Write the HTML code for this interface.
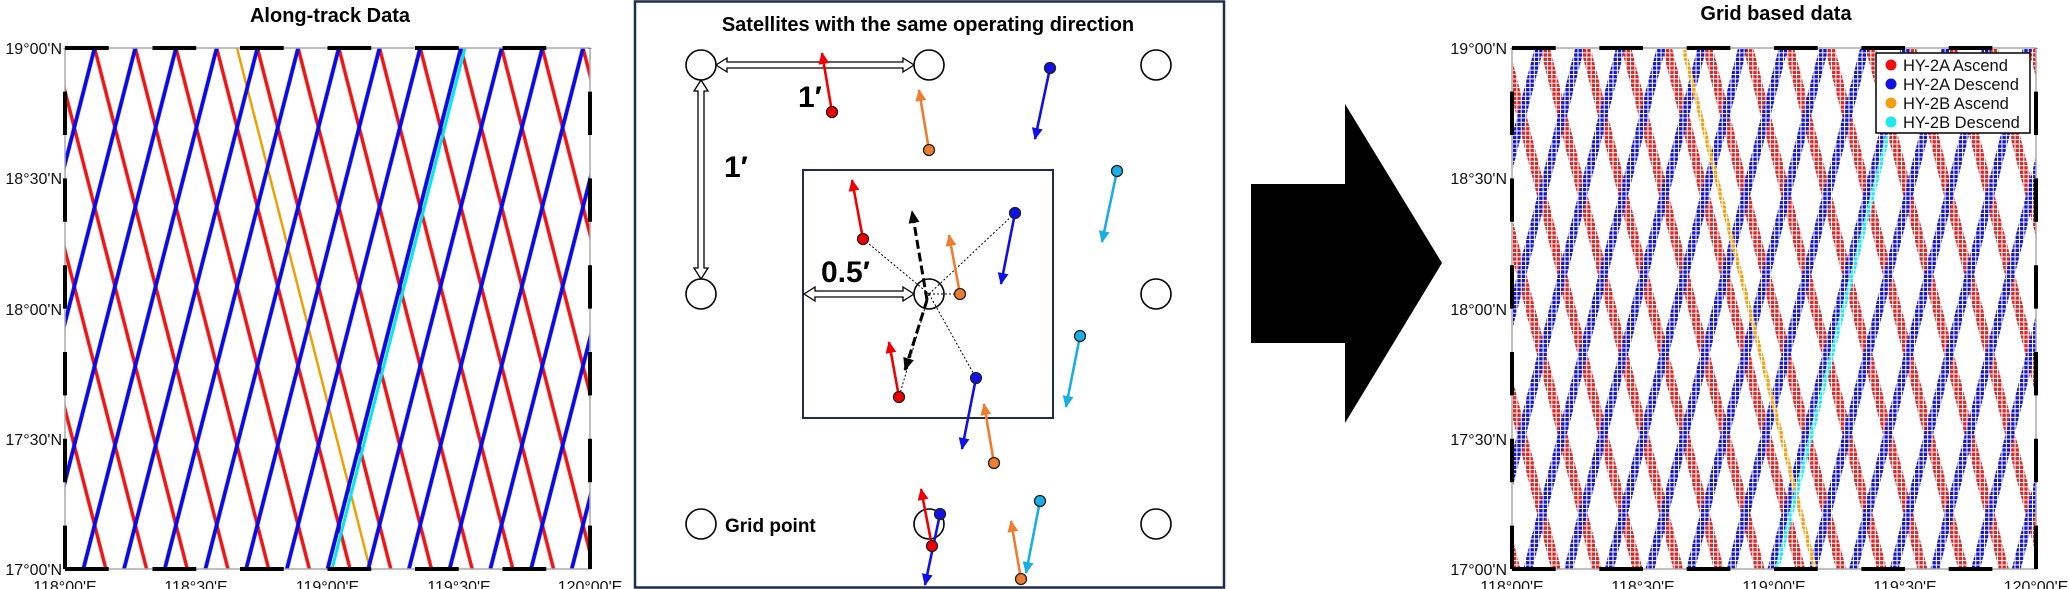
<!DOCTYPE html>
<html><head><meta charset="utf-8"><style>
html,body{margin:0;padding:0;background:#fff;}
svg{display:block;}
text{font-family:"Liberation Sans",Arial,sans-serif;}
</style></head><body>
<svg width="2069" height="589" viewBox="0 0 2069 589" xmlns="http://www.w3.org/2000/svg">
<defs>
  <clipPath id="cL"><rect x="65" y="48" width="525" height="521"/></clipPath>
  <clipPath id="cR"><rect x="1512" y="48" width="524" height="521"/></clipPath>
  <pattern id="pLB" patternUnits="userSpaceOnUse" x="0" y="0" width="40.7" height="1200" patternTransform="skewX(-14.36)">
    <rect x="23.5" y="0" width="4" height="1200" fill="#0a0ae6"/>
  </pattern>
  <pattern id="pLR" patternUnits="userSpaceOnUse" x="-20" y="0" width="40.7" height="1200" patternTransform="skewX(14.36)">
    <rect x="19.1" y="0" width="3.6" height="1200" fill="#ee1515"/>
  </pattern>
  <pattern id="pRB" patternUnits="userSpaceOnUse" x="0" y="0" width="40.7" height="1200" patternTransform="skewX(-14.36)">
    <rect x="0.3" y="0" width="9" height="1200" fill="#1414c8"/>
  </pattern>
  <pattern id="pRR" patternUnits="userSpaceOnUse" x="0" y="0" width="40.7" height="1200" patternTransform="skewX(14.36)">
    <rect x="21.7" y="0" width="10" height="1200" fill="#d82828"/>
  </pattern>
  <pattern id="grid" patternUnits="userSpaceOnUse" x="1512" y="48" width="4.37" height="4.34">
    <rect x="0" y="0" width="4.37" height="1" fill="#fff"/>
    <rect x="0" y="0" width="1" height="4.34" fill="#fff"/>
  </pattern>
  <marker id="mR" markerUnits="userSpaceOnUse" markerWidth="12" markerHeight="11" refX="11" refY="5.5" orient="auto"><path d="M0,0 L12,5.5 L0,11 z" fill="#f00000"/></marker>
  <marker id="mO" markerUnits="userSpaceOnUse" markerWidth="12" markerHeight="11" refX="11" refY="5.5" orient="auto"><path d="M0,0 L12,5.5 L0,11 z" fill="#ed7d31"/></marker>
  <marker id="mB" markerUnits="userSpaceOnUse" markerWidth="12" markerHeight="11" refX="11" refY="5.5" orient="auto"><path d="M0,0 L12,5.5 L0,11 z" fill="#1010e8"/></marker>
  <marker id="mC" markerUnits="userSpaceOnUse" markerWidth="12" markerHeight="11" refX="11" refY="5.5" orient="auto"><path d="M0,0 L12,5.5 L0,11 z" fill="#1aaee6"/></marker>
  <marker id="mK" markerUnits="userSpaceOnUse" markerWidth="13" markerHeight="11" refX="12" refY="5.5" orient="auto"><path d="M0,0 L13,5.5 L0,11 z" fill="#000"/></marker>
</defs>

<!-- ============ LEFT PLOT ============ -->
<text x="330" y="22" text-anchor="middle" font-size="20" font-weight="bold">Along-track Data</text>
<g clip-path="url(#cL)">
  <rect x="65" y="48" width="525" height="521" fill="url(#pLR)"/>
  <line x1="237" y1="48" x2="370" y2="569" stroke="#f0a000" stroke-width="2.5"/>
  <rect x="65" y="48" width="525" height="521" fill="url(#pLB)"/>
  <line x1="332" y1="569" x2="465" y2="48" stroke="#00e8f0" stroke-width="3"/>
  <line x1="328" y1="569" x2="461" y2="48" stroke="#0a0ae6" stroke-width="3"/>
</g>
<rect x="65" y="48" width="525" height="521" fill="none" stroke="#aaa" stroke-width="1.5"/>
<line x1="65" y1="48" x2="590" y2="48" stroke="#000" stroke-width="4" stroke-dasharray="43.75 43.75"/>
<line x1="65" y1="569" x2="590" y2="569" stroke="#000" stroke-width="4" stroke-dasharray="43.75 43.75"/>
<line x1="65" y1="569" x2="65" y2="48" stroke="#000" stroke-width="4" stroke-dasharray="43.4 43.4"/>
<line x1="590" y1="569" x2="590" y2="48" stroke="#000" stroke-width="4" stroke-dasharray="43.4 43.4"/>
<g font-size="16" text-anchor="end" fill="#111">
  <text x="62" y="54">19°00'N</text>
  <text x="62" y="184">18°30'N</text>
  <text x="62" y="315">18°00'N</text>
  <text x="62" y="445">17°30'N</text>
  <text x="62" y="575">17°00'N</text>
</g>
<g font-size="16" text-anchor="middle" fill="#111">
  <text x="65" y="592">118°00'E</text>
  <text x="196" y="592">118°30'E</text>
  <text x="327.5" y="592">119°00'E</text>
  <text x="459" y="592">119°30'E</text>
  <text x="590" y="592">120°00'E</text>
</g>

<!-- ============ MIDDLE PANEL ============ -->
<rect x="635" y="1.5" width="589" height="586" fill="#fff" stroke="#1f2d4d" stroke-width="2.5"/>
<text x="928" y="31" text-anchor="middle" font-size="20" font-weight="bold">Satellites with the same operating direction</text>
<rect x="803" y="170" width="250" height="248" fill="none" stroke="#1f2d4d" stroke-width="2"/>

<polygon points="716,65 727,58 727,62 903,62 903,58 914,65 903,72 903,68 727,68 727,72" fill="#fff" stroke="#000" stroke-width="1.3"/>
<polygon points="701,80 708,91 704,91 704,268 708,268 701,279 694,268 698,268 698,91 694,91" fill="#fff" stroke="#000" stroke-width="1.3"/>
<polygon points="804,294 815,287 815,291 903,291 903,287 914,294 903,301 903,297 815,297 815,301" fill="#fff" stroke="#000" stroke-width="1.3"/>

<g fill="#fff" stroke="#000" stroke-width="1.6">
  <circle cx="701" cy="65" r="15"/><circle cx="929" cy="65" r="15"/><circle cx="1156" cy="65" r="15"/>
  <circle cx="701" cy="294" r="15"/><circle cx="929" cy="294" r="15"/><circle cx="1156" cy="294" r="15"/>
  <circle cx="701" cy="524" r="15"/><circle cx="929" cy="524" r="15"/><circle cx="1156" cy="524" r="15"/>
</g>

<text x="798" y="107" font-size="30" font-weight="bold">1′</text>
<text x="724" y="177" font-size="30" font-weight="bold">1′</text>
<text x="821" y="282" font-size="30" font-weight="bold">0.5′</text>
<text x="725" y="532" font-size="19" font-weight="bold">Grid point</text>

<g stroke="#000" stroke-width="1" stroke-dasharray="2 2">
  <line x1="929" y1="294" x2="863" y2="239"/>
  <line x1="929" y1="294" x2="1015" y2="213"/>
  <line x1="929" y1="294" x2="960" y2="294"/>
  <line x1="929" y1="294" x2="976" y2="378"/>
  <line x1="929" y1="294" x2="899" y2="397"/>
</g>
<g stroke="#000" stroke-width="3" stroke-dasharray="9 4" fill="none">
  <line x1="927" y1="300" x2="912" y2="211" marker-end="url(#mK)"/>
  <line x1="927" y1="300" x2="905" y2="370" marker-end="url(#mK)"/>
</g>

<g stroke-width="2.6">
  <line x1="832" y1="112" x2="822" y2="53" stroke="#f00000" marker-end="url(#mR)"/>
  <line x1="929" y1="150" x2="919" y2="90" stroke="#ed7d31" marker-end="url(#mO)"/>
  <line x1="1050" y1="68" x2="1035" y2="139" stroke="#1010e8" marker-end="url(#mB)"/>
  <line x1="1117" y1="171" x2="1102" y2="242" stroke="#1aaee6" marker-end="url(#mC)"/>
  <line x1="863" y1="239" x2="852" y2="180" stroke="#f00000" marker-end="url(#mR)"/>
  <line x1="1015" y1="213" x2="1001" y2="284" stroke="#1010e8" marker-end="url(#mB)"/>
  <line x1="960" y1="294" x2="949" y2="235" stroke="#ed7d31" marker-end="url(#mO)"/>
  <line x1="899" y1="397" x2="889" y2="342" stroke="#f00000" marker-end="url(#mR)"/>
  <line x1="976" y1="378" x2="962" y2="449" stroke="#1010e8" marker-end="url(#mB)"/>
  <line x1="994" y1="463" x2="984" y2="404" stroke="#ed7d31" marker-end="url(#mO)"/>
  <line x1="1080" y1="336" x2="1066" y2="407" stroke="#1aaee6" marker-end="url(#mC)"/>
  <line x1="932" y1="546" x2="921" y2="489" stroke="#f00000" marker-end="url(#mR)"/>
  <line x1="940" y1="514" x2="925" y2="585" stroke="#1010e8" marker-end="url(#mB)"/>
  <line x1="1040" y1="501" x2="1026" y2="573" stroke="#1aaee6" marker-end="url(#mC)"/>
  <line x1="1021" y1="579" x2="1011" y2="521" stroke="#ed7d31" marker-end="url(#mO)"/>
</g>
<g stroke="#222" stroke-width="1.3">
  <circle cx="832" cy="112" r="5.5" fill="#f00000"/>
  <circle cx="929" cy="150" r="5.5" fill="#ed7d31"/>
  <circle cx="1050" cy="68" r="5.5" fill="#1010e8"/>
  <circle cx="1117" cy="171" r="5.5" fill="#1aaee6"/>
  <circle cx="863" cy="239" r="5.5" fill="#f00000"/>
  <circle cx="1015" cy="213" r="5.5" fill="#1010e8"/>
  <circle cx="960" cy="294" r="5.5" fill="#ed7d31"/>
  <circle cx="899" cy="397" r="5.5" fill="#f00000"/>
  <circle cx="976" cy="378" r="5.5" fill="#1010e8"/>
  <circle cx="994" cy="463" r="5.5" fill="#ed7d31"/>
  <circle cx="1080" cy="336" r="5.5" fill="#1aaee6"/>
  <circle cx="932" cy="546" r="5.5" fill="#f00000"/>
  <circle cx="940" cy="514" r="5.5" fill="#1010e8"/>
  <circle cx="1040" cy="501" r="5.5" fill="#1aaee6"/>
  <circle cx="1021" cy="579" r="5.5" fill="#ed7d31"/>
</g>

<!-- ============ BIG ARROW ============ -->
<polygon points="1251,184 1345,184 1345,104 1442,263 1345,423 1345,343 1251,343" fill="#000"/>

<!-- ============ RIGHT PLOT ============ -->
<text x="1776" y="20" text-anchor="middle" font-size="20" font-weight="bold">Grid based data</text>
<g clip-path="url(#cR)">
  <rect x="1512" y="48" width="524" height="521" fill="url(#pRR)"/>
  <rect x="1512" y="48" width="524" height="521" fill="url(#pRB)"/>
  <line x1="1684" y1="50" x2="1815" y2="569" stroke="#f0a010" stroke-width="4.5"/>
  <line x1="1777" y1="569" x2="1888" y2="135" stroke="#20e8f0" stroke-width="4.5"/>
  <rect x="1512" y="48" width="524" height="521" fill="url(#grid)"/>
</g>
<rect x="1512" y="48" width="524" height="521" fill="none" stroke="#aaa" stroke-width="1.5"/>
<line x1="1512" y1="48" x2="2036" y2="48" stroke="#000" stroke-width="4" stroke-dasharray="43.67 43.67"/>
<line x1="1512" y1="569" x2="2036" y2="569" stroke="#000" stroke-width="4" stroke-dasharray="43.67 43.67"/>
<line x1="1512" y1="569" x2="1512" y2="48" stroke="#000" stroke-width="4" stroke-dasharray="43.4 43.4"/>
<line x1="2036" y1="569" x2="2036" y2="48" stroke="#000" stroke-width="4" stroke-dasharray="43.4 43.4"/>
<g font-size="16" text-anchor="end" fill="#111">
  <text x="1507" y="54">19°00'N</text>
  <text x="1507" y="184">18°30'N</text>
  <text x="1507" y="315">18°00'N</text>
  <text x="1507" y="445">17°30'N</text>
  <text x="1507" y="575">17°00'N</text>
</g>
<g font-size="16" text-anchor="middle" fill="#111">
  <text x="1512" y="592">118°00'E</text>
  <text x="1643" y="592">118°30'E</text>
  <text x="1774" y="592">119°00'E</text>
  <text x="1905" y="592">119°30'E</text>
  <text x="2036" y="592">120°00'E</text>
</g>
<rect x="1876" y="53" width="154" height="80" fill="#fff" stroke="#000" stroke-width="1.5"/>
<circle cx="1891" cy="65" r="5.5" fill="#ee1111"/>
<circle cx="1891" cy="84" r="5.5" fill="#1010e0"/>
<circle cx="1891" cy="103" r="5.5" fill="#f0a010"/>
<circle cx="1891" cy="122" r="5.5" fill="#20e8f0"/>
<g font-size="16.5" fill="#111">
  <text x="1903" y="71">HY-2A Ascend</text>
  <text x="1903" y="90">HY-2A Descend</text>
  <text x="1903" y="109">HY-2B Ascend</text>
  <text x="1903" y="128">HY-2B Descend</text>
</g>
</svg>
</body></html>
